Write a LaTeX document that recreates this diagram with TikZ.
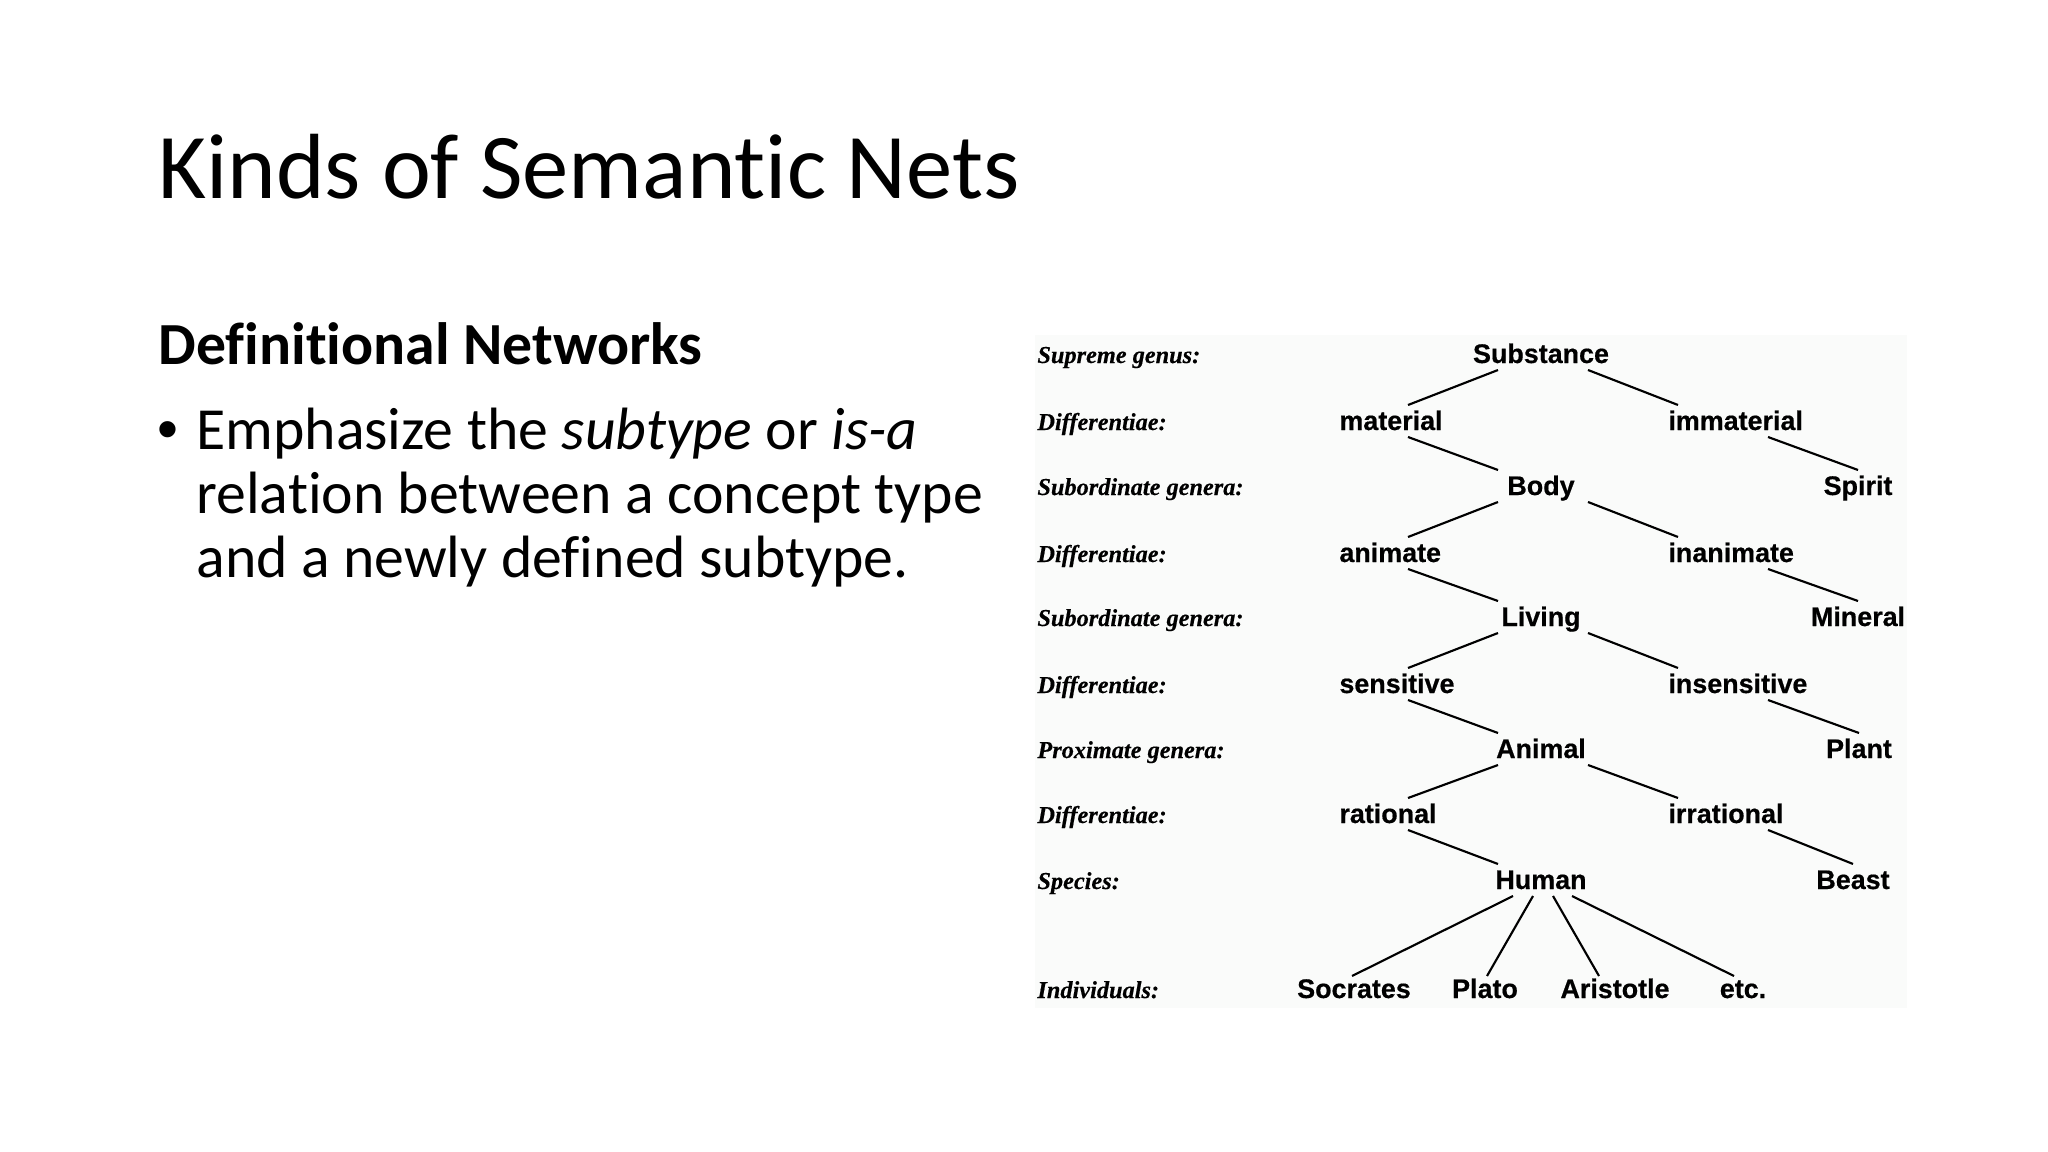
\documentclass[tikz,border=0pt]{standalone}
\usepackage{fontspec}
\setmainfont{Carlito}[Ligatures=NoCommon]
\newfontfamily\treefont{Liberation Sans}[BoldFeatures={FakeBold=0.5}]
\newfontfamily\rankfont{Liberation Serif}[BoldItalicFeatures={FakeBold=0.4}]
\usepackage{tikz}
\usetikzlibrary{calc}
\definecolor{figbg}{RGB}{250,251,250}
\tikzset{
  slidetext/.style={anchor=base west, inner sep=0pt},
  rank/.style={anchor=base west, inner sep=0pt, font=\rankfont\bfseries\itshape\fontsize{11.4}{13}\selectfont},
  concept/.style={anchor=base, inner sep=0pt, font=\treefont\bfseries\fontsize{12.6}{14}\selectfont},
  diff/.style={concept, anchor=base west},
  isa/.style={line width=1pt}
}

\begin{document}
\begin{tikzpicture}[x=0.46875pt, y=-0.46875pt]
			%%%%% SLIDE %%%%%
			\useasboundingbox (0, 0) rectangle (2048, 1152);
			
			\node[slidetext, font=\fontsize{43.4}{50}\selectfont] (title) at (158, 199) {Kinds of Semantic Nets};
			\node[slidetext, font=\bfseries\fontsize{28}{32}\selectfont] (head) at (158, 364) {Definitional Networks};
			\node[slidetext, font=\treefont\fontsize{28}{32}\selectfont] (dot) at (157, 449) {\textbullet};
			\node[slidetext, font=\fontsize{28}{32}\selectfont] (lineA) at (196, 449) {Emphasize the \textit{subtype} or \textit{is-a}};
			\node[slidetext, font=\fontsize{28}{32}\selectfont] (lineB) at (196, 513) {relation between a concept type};
			\node[slidetext, font=\fontsize{28}{32}\selectfont] (lineC) at (196, 577) {and a newly defined subtype.};
			
			%%%%% FIGURE %%%%%
			\fill[figbg] (1035, 335) rectangle (1907, 1008);
			
			\node[rank] (r1) at (1037, 363) {Supreme genus:};
			\node[rank] (r2) at (1037, 430) {Differentiae:};
			\node[rank] (r3) at (1037, 495) {Subordinate genera:};
			\node[rank] (r4) at (1037, 562) {Differentiae:};
			\node[rank] (r5) at (1037, 626) {Subordinate genera:};
			\node[rank] (r6) at (1037, 693) {Differentiae:};
			\node[rank] (r7) at (1037, 758) {Proximate genera:};
			\node[rank] (r8) at (1037, 823) {Differentiae:};
			\node[rank] (r9) at (1037, 889) {Species:};
			\node[rank] (r10) at (1037, 998) {Individuals:};
			
			\node[concept] (sub) at (1541, 363) {Substance};
			\node[diff] (mat) at (1339, 430) {material};
			\node[diff] (imm) at (1668, 430) {immaterial};
			\node[concept] (body) at (1541, 495) {Body};
			\node[concept] (spirit) at (1858, 495) {Spirit};
			\node[diff] (anim) at (1339, 562) {animate};
			\node[diff] (inan) at (1668, 562) {inanimate};
			\node[concept] (liv) at (1541, 626) {Living};
			\node[concept] (min) at (1858, 626) {Mineral};
			\node[diff] (sens) at (1339, 693) {sensitive};
			\node[diff] (insens) at (1668, 693) {insensitive};
			\node[concept] (animal) at (1541, 758) {Animal};
			\node[concept] (plant) at (1859, 758) {Plant};
			\node[diff] (rat) at (1339, 823) {rational};
			\node[diff] (irr) at (1668, 823) {irrational};
			\node[concept] (hum) at (1541, 889) {Human};
			\node[concept] (beast) at (1853, 889) {Beast};
			\node[concept] (socr) at (1354, 998) {Socrates};
			\node[concept] (plato) at (1485, 998) {Plato};
			\node[concept] (arist) at (1615, 998) {Aristotle};
			\node[concept] (etc) at (1743, 998) {etc.};
			
			\draw[isa] ($(sub.base)+(-43, 7)$) -- ($(mat.base west)+(69, -25)$);
			\draw[isa] ($(sub.base)+(47, 7)$) -- ($(imm.base west)+(10, -25)$);
			\draw[isa] ($(mat.base west)+(69, 7)$) -- ($(body.base)+(-43, -25)$);
			\draw[isa] ($(imm.base west)+(100, 7)$) -- ($(spirit.base)+(0, -25)$);
			
			\draw[isa] ($(body.base)+(-43, 7)$) -- ($(anim.base west)+(69, -25)$);
			\draw[isa] ($(body.base)+(47, 7)$) -- ($(inan.base west)+(10, -25)$);
			\draw[isa] ($(anim.base west)+(69, 7)$) -- ($(liv.base)+(-43, -25)$);
			\draw[isa] ($(inan.base west)+(100, 7)$) -- ($(min.base)+(0, -25)$);
			
			\draw[isa] ($(liv.base)+(-43, 7)$) -- ($(sens.base west)+(69, -25)$);
			\draw[isa] ($(liv.base)+(47, 7)$) -- ($(insens.base west)+(10, -25)$);
			\draw[isa] ($(sens.base west)+(69, 7)$) -- ($(animal.base)+(-43, -25)$);
			\draw[isa] ($(insens.base west)+(100, 7)$) -- ($(plant.base)+(0, -25)$);
			
			\draw[isa] ($(animal.base)+(-43, 7)$) -- ($(rat.base west)+(69, -25)$);
			\draw[isa] ($(animal.base)+(47, 7)$) -- ($(irr.base west)+(10, -25)$);
			\draw[isa] ($(rat.base west)+(69, 7)$) -- ($(hum.base)+(-43, -25)$);
			\draw[isa] ($(irr.base west)+(100, 7)$) -- ($(beast.base)+(0, -25)$);
			
			\draw[isa] ($(hum.base)+(-28, 7)$) -- ($(socr.base)+(-2, -22)$);
			\draw[isa] ($(hum.base)+(-8, 7)$) -- ($(plato.base)+(2, -22)$);
			\draw[isa] ($(hum.base)+(12, 7)$) -- ($(arist.base)+(-16, -22)$);
			\draw[isa] ($(hum.base)+(31, 7)$) -- ($(etc.base)+(-9, -22)$);
			
			%%%%% END %%%%%
		\end{tikzpicture}
\end{document}
